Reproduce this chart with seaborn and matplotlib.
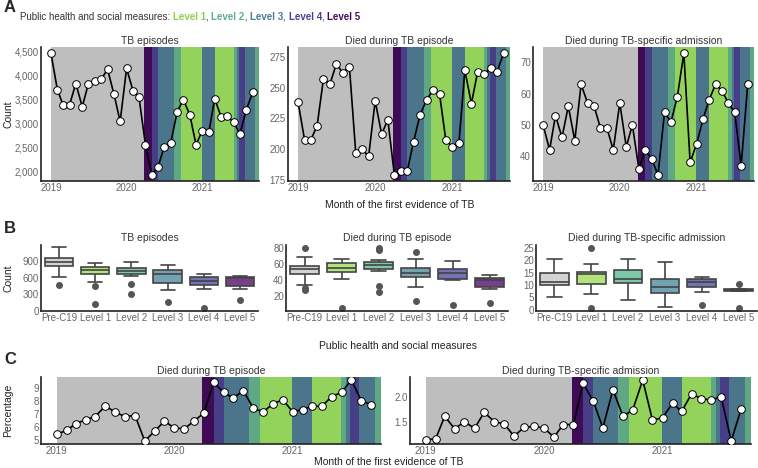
import numpy as np
import pandas as pd
import matplotlib.pyplot as plt
import matplotlib.ticker as mticker
import matplotlib.dates as mdates
import seaborn as sns

sns.set_style("white")
plt.rcParams['font.family'] = ['Liberation Sans', 'DejaVu Sans']

# monthly series, Jan 2019 - Sep 2021
months = pd.date_range("2019-01-01", "2021-09-01", freq="MS")
tb_episodes = [4465, 3700, 3380, 3390, 3830, 3345, 3830, 3890, 3920, 4130, 3610, 3040,
               4145, 3680, 3540, 2556, 1924, 2097, 2514, 2590, 3243, 3493, 3181, 2556,
               2847, 2813, 3514, 3139, 3153, 3021, 2778, 3285, 3653]
died_episode = [238, 207, 207, 219, 257, 253, 269, 262, 267, 197, 200, 194,
                239, 212, 224, 179, 182, 182, 206, 228, 240, 248, 245, 207,
                202, 205, 264, 237, 263, 261, 266, 263, 278]
died_admission = [50, 42, 53, 46, 56, 45, 63, 57, 56, 49, 49, 42,
                  57, 43, 50, 36, 42, 39, 34, 54, 51, 59, 73, 38,
                  44, 52, 58, 63, 61, 57, 54, 37, 63]
pct_died_episode = [5.46, 5.76, 6.27, 6.58, 6.83, 7.65, 7.17, 6.83, 6.91, 4.95, 5.71, 6.48,
                    5.94, 5.89, 6.48, 7.09, 9.46, 8.69, 8.26, 8.82, 7.47, 7.19, 7.80, 8.13,
                    7.19, 7.37, 7.62, 7.62, 8.36, 8.69, 9.64, 8.06, 7.73]
pct_died_admission = [1.13, 1.14, 1.61, 1.35, 1.50, 1.36, 1.69, 1.50, 1.45, 1.20, 1.38, 1.40,
                      1.37, 1.18, 1.44, 1.44, 2.29, 1.93, 1.37, 2.16, 1.61, 1.74, 2.36, 1.53,
                      1.58, 1.88, 1.71, 2.08, 1.97, 1.95, 2.01, 1.10, 1.77]

# lockdown periods
band_start = ["2019-01-01", "2020-03-27", "2020-05-01", "2020-06-01", "2020-08-18", "2020-09-21",
              "2020-12-29", "2021-03-01", "2021-05-31", "2021-06-16", "2021-06-28", "2021-07-26",
              "2021-09-13"]
band_end = ["2020-03-27", "2020-05-01", "2020-06-01", "2020-08-18", "2020-09-21", "2020-12-29",
            "2021-03-01", "2021-05-31", "2021-06-16", "2021-06-28", "2021-07-26", "2021-09-13",
            "2021-10-01"]
band_level = ["Pre-C19", "Level 5", "Level 4", "Level 3", "Level 2", "Level 1",
              "Level 3", "Level 1", "Level 2", "Level 3", "Level 4", "Level 3", "Level 2"]

levels = ["Pre-C19", "Level 1", "Level 2", "Level 3", "Level 4", "Level 5"]
# weekly counts by level (for box plots)
box_tb = [[462, 614, 700, 809, 830, 860, 885, 910, 935, 961, 1020, 1090, 1162],
          [122, 444, 523, 670, 700, 720, 740, 760, 780, 800, 830, 850, 870],
          [310, 490, 626, 675, 700, 715, 730, 750, 770, 785, 820, 860, 888],
          [150, 371, 450, 510, 580, 640, 675, 700, 720, 736, 770, 800, 827],
          [49, 395, 430, 474, 500, 520, 535, 560, 590, 608, 630, 650, 669],
          [185, 400, 420, 450, 500, 560, 588, 600, 605, 608, 615, 620, 626]]
box_died = [[28, 30, 34, 48, 50, 52, 54, 55, 57, 58, 62, 69, 80],
            [5, 42, 46, 50, 52, 54, 55, 58, 60, 62, 64, 65, 66],
            [25, 33, 52, 54, 56, 58, 59, 61, 62, 63, 65, 78, 80],
            [14, 31, 38, 43.5, 45, 47, 48.5, 51, 53, 55, 60, 66, 75],
            [9, 40, 40.5, 41, 44, 46, 48.5, 51, 53, 54.5, 58, 61, 64],
            [12, 29, 30, 32, 35, 38, 40, 41, 42, 43, 44, 45, 46]]
box_adm = [[5, 7, 9, 10.2, 10.5, 11, 11.3, 12, 13.5, 14.8, 16, 18, 20.7],
           [0.8, 6.3, 8, 10.6, 12, 13.5, 14.5, 15, 15.2, 15.4, 17, 18.5, 25],
           [4, 7, 9, 10.9, 11.5, 12, 12.4, 13.5, 15, 16.1, 18, 19.5, 20.7],
           [1, 3, 5, 6.9, 8, 8.8, 9.2, 10, 11.5, 12.6, 15, 17, 19.4],
           [2.1, 7.3, 8, 9.2, 10, 10.8, 11.3, 12, 12.3, 12.6, 12.9, 13, 13.2],
           [0.8, 7.5, 7.5, 7.5, 7.8, 7.9, 8, 8.1, 8.2, 8.2, 8.2, 8.2, 10.5]]

band_colors = {"Pre-C19": "#bebebe", "Level 1": "#93d35b", "Level 2": "#5fa884",
               "Level 3": "#4a758a", "Level 4": "#463f88", "Level 5": "#400b56"}
box_colors = {"Pre-C19": "#d3d3d3", "Level 1": "#b4e27c", "Level 2": "#7cc8a8",
              "Level 3": "#74a2b2", "Level 4": "#7272b4", "Level 5": "#7a3f8c"}
text_colors = {"Level 1": "#8fd14f", "Level 2": "#5cae88", "Level 3": "#4a7b95",
               "Level 4": "#4a3f92", "Level 5": "#4a0d5e"}

W, H = 758, 468
fig = plt.figure(figsize=(W / 100, H / 100), dpi=100)


def px_axes(x0, y0, x1, y1):
    return fig.add_axes([x0 / W, 1 - y1 / H, (x1 - x0) / W, (y1 - y0) / H])


def style(ax):
    sns.despine(ax=ax)
    for s in ["left", "bottom"]:
        ax.spines[s].set_color("#222222")
        ax.spines[s].set_linewidth(1.2)
    ax.tick_params(axis="both", length=0, labelsize=7, labelcolor="#666666", pad=1.5)
    ax.set_xlabel("")
    ax.set_ylabel("")


def time_panel(ax, values, title, step, fmt=None):
    sns.lineplot(x=months, y=values, ax=ax, color="black", linewidth=1.2, marker="o",
                 markersize=5.5, markerfacecolor="white", markeredgecolor="black",
                 markeredgewidth=0.7, zorder=3)
    for s, e, lv in zip(band_start, band_end, band_level):
        ax.axvspan(pd.Timestamp(s), pd.Timestamp(e), color=band_colors[lv], lw=0, zorder=0)
    ax.set_xlim(pd.Timestamp("2018-11-14"), pd.Timestamp("2021-10-01"))
    ax.xaxis.set_major_locator(mdates.YearLocator())
    ax.xaxis.set_major_formatter(mdates.DateFormatter("%Y"))
    ax.yaxis.set_major_locator(mticker.MultipleLocator(step))
    if fmt:
        ax.yaxis.set_major_formatter(mticker.FuncFormatter(fmt))
    style(ax)
    ax.set_title(title, fontsize=7.5, color="#333333", pad=2)


def box_panel(ax, samples, title, step, ylim):
    df = pd.DataFrame({"level": np.repeat(levels, [len(s) for s in samples]),
                       "value": np.concatenate(samples)})
    sns.boxplot(data=df, x="level", y="value", hue="level", order=levels, hue_order=levels,
                palette=box_colors, saturation=1, width=0.78, linecolor="#444444",
                linewidth=1.2, fliersize=4, legend=False, ax=ax,
                flierprops=dict(marker="o", markerfacecolor="#555555", markeredgecolor="#555555"))
    ax.set_ylim(*ylim)
    ax.yaxis.set_major_locator(mticker.MultipleLocator(step))
    style(ax)
    ax.set_title(title, fontsize=7.5, color="#333333", pad=3)


comma = lambda v, p: f"{v:,.0f}"

# A
a1 = px_axes(41, 47, 259, 181)
a2 = px_axes(288, 47, 510, 181)
a3 = px_axes(533, 47, 754, 181)
time_panel(a1, tb_episodes, "TB episodes", 500, comma)
time_panel(a2, died_episode, "Died during TB episode", 25)
time_panel(a3, died_admission, "Died during TB-specific admission", 10)

# B
b1 = px_axes(41, 245, 258, 311)
b2 = px_axes(286, 245, 508, 311)
b3 = px_axes(536, 245, 757, 311)
box_panel(b1, box_tb, "TB episodes", 300, (-7, 1195))
box_panel(b2, box_died, "Died during TB episode", 20, (1.5, 84))
box_panel(b3, box_adm, "Died during TB-specific admission", 5, (-0.5, 26.2))

# C
c1 = px_axes(41, 377, 381, 444)
c2 = px_axes(410, 377, 751, 444)
time_panel(c1, pct_died_episode, "Died during TB episode", 1)
time_panel(c2, pct_died_admission, "Died during TB-specific admission", 0.5,
           lambda v, p: f"{v:.1f}")

# panel letters and shared labels
for letter, y in [("A", 8), ("B", 228), ("C", 359)]:
    fig.text(4 / W, 1 - y / H, letter, fontsize=12, fontweight="bold", va="center", ha="left")
fig.text(8 / W, 1 - 114 / H, "Count", rotation=90, fontsize=7.5, color="#222222", va="center", ha="center")
fig.text(8 / W, 1 - 278 / H, "Count", rotation=90, fontsize=7.5, color="#222222", va="center", ha="center")
fig.text(8 / W, 1 - 410 / H, "Percentage", rotation=90, fontsize=7.5, color="#222222", va="center", ha="center")
fig.text(400 / W, 1 - 205 / H, "Month of the first evidence of TB", fontsize=7.5, color="#222222", ha="center", va="center")
fig.text(398 / W, 1 - 346 / H, "Public health and social measures", fontsize=7.5, color="#222222", ha="center", va="center")
fig.text(389 / W, 1 - 462 / H, "Month of the first evidence of TB", fontsize=7.5, color="#222222", ha="center", va="center")

# coloured legend line
prev = fig.text(20 / W, 1 - 20 / H, "Public health and social measures: ", fontsize=7,
                color="#333333", va="baseline", ha="left")
lv_names = ["Level 1", "Level 2", "Level 3", "Level 4", "Level 5"]
for i, lv in enumerate(lv_names):
    prev = a1.annotate(lv, xy=(1, 0), xycoords=prev, va="bottom", ha="left", fontsize=7,
                       fontweight="bold", color=text_colors[lv], annotation_clip=False)
    if i < len(lv_names) - 1:
        prev = a1.annotate(", ", xy=(1, 0), xycoords=prev, va="bottom", ha="left", fontsize=7,
                           color="#333333", annotation_clip=False)

fig.savefig("out.png", dpi=100)
